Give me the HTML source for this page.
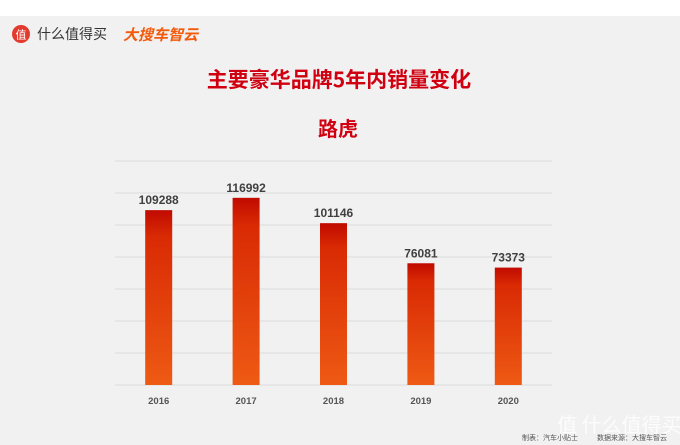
<!DOCTYPE html>
<html><head><meta charset="utf-8"><style>
body{margin:0;width:680px;height:445px;background:#fff;overflow:hidden;font-family:"Liberation Sans","Noto Sans CJK SC",sans-serif}
#bg{position:absolute;left:0;top:16px;width:680px;height:429px;background:#f1f1f1}
</style></head><body>
<div id="bg"></div>
<svg width="680" height="445" style="position:absolute;left:0;top:0">
<defs><linearGradient id="g" x1="0" y1="0" x2="0" y2="1">
<stop offset="0" stop-color="#c00a00"/><stop offset="0.15" stop-color="#d92a04"/><stop offset="1" stop-color="#ee5a14"/></linearGradient></defs>
<g>
<circle cx="21" cy="34" r="9" fill="#e23a2e"/>
<text x="21" y="38.5" font-size="11" fill="#fff" text-anchor="middle" font-family="Noto Sans CJK SC,sans-serif">值</text>
<text x="37" y="39" font-size="14" fill="#333" font-family="Noto Sans CJK SC,sans-serif">什么值得买</text>
</g>
<text x="123" y="40" font-size="15" font-weight="bold" font-style="italic" fill="#f25a0c" font-family="Noto Sans CJK SC,sans-serif">大搜车智云</text>
<text x="339" y="87" font-size="21" font-weight="bold" fill="#d00010" text-anchor="middle" font-family="Noto Sans CJK SC,sans-serif">主要豪华品牌5年内销量变化</text>
<text x="338" y="136" font-size="20" font-weight="bold" fill="#d00010" text-anchor="middle" font-family="Noto Sans CJK SC,sans-serif">路虎</text>
<g id="grid"></g><g id="bars"></g>
<text x="522" y="440" font-size="7" fill="#555" font-family="Noto Sans CJK SC,sans-serif">制表：汽车小贴士</text>
<text x="597" y="440" font-size="7" fill="#555" font-family="Noto Sans CJK SC,sans-serif">数据来源：大搜车智云</text>
<text x="557" y="432" font-size="20" fill="#fff" opacity="0.85" font-family="Noto Sans CJK SC,sans-serif">值 什么值得买</text>
</svg>
<script>
const categories=["2016","2017","2018","2019","2020"];
const sales=[109288,116992,101146,76081,73373];
const gridTicks=[0,20000,40000,60000,80000,100000,120000,140000];
const x0=115,x1=552,yBase=385,yTop=161,maxV=140000;
const ns="http://www.w3.org/2000/svg";
const y=v=>yBase-(v/maxV)*(yBase-yTop);
const band=(x1-x0)/categories.length;
const xc=i=>x0+band*(i+0.5);
const grid=document.getElementById('grid'),bars=document.getElementById('bars');
gridTicks.forEach(t=>{const l=document.createElementNS(ns,'line');
l.setAttribute('x1',x0);l.setAttribute('x2',x1);l.setAttribute('y1',y(t));l.setAttribute('y2',y(t));
l.setAttribute('stroke','#dcdcdc');l.setAttribute('stroke-width','1');


grid.appendChild(l);});
const bw=27;
categories.forEach((c,i)=>{
const r=document.createElementNS(ns,'rect');
r.setAttribute('x',xc(i)-bw/2);r.setAttribute('y',y(sales[i]));r.setAttribute('width',bw);r.setAttribute('height',yBase-y(sales[i]));r.setAttribute('fill','url(#g)');


bars.appendChild(r);
const v=document.createElementNS(ns,'text');
v.setAttribute('x',xc(i));v.setAttribute('y',y(sales[i])-6);v.setAttribute('text-anchor','middle');v.setAttribute('font-size','12');v.setAttribute('font-weight','bold');v.setAttribute('fill','#404040');
v.textContent=sales[i];


bars.appendChild(v);
const t=document.createElementNS(ns,'text');
t.setAttribute('x',xc(i));t.setAttribute('y',404);t.setAttribute('text-anchor','middle');t.setAttribute('font-size','9.5');t.setAttribute('font-weight','bold');t.setAttribute('fill','#555');
t.textContent=c;


bars.appendChild(t);
});
</script>
</body></html>
